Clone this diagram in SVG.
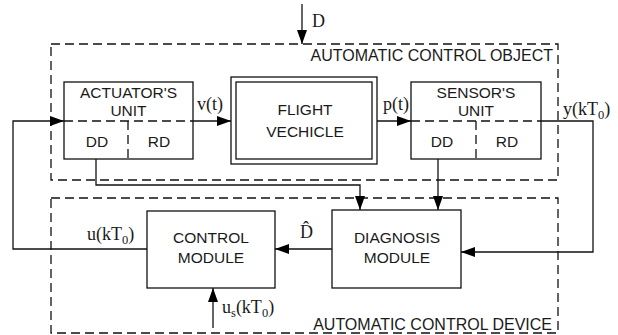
<svg xmlns="http://www.w3.org/2000/svg" width="618" height="335" viewBox="0 0 618 335">
<defs>
<marker id="ah" viewBox="0 0 14 10" refX="14" refY="5" markerWidth="14" markerHeight="10" markerUnits="userSpaceOnUse" orient="auto">
<path d="M0,0 L14,5 L0,10 Z" fill="#000"/>
</marker>
<style>
.bx{fill:#fff;stroke:#111;stroke-width:1.3}
.ds{fill:none;stroke:#111;stroke-width:1.3;stroke-dasharray:9 5}
.ar{fill:none;stroke:#111;stroke-width:1.3;marker-end:url(#ah)}
.t{font-family:"Liberation Sans",Arial,sans-serif;font-size:15.5px;fill:#1a1a1a;text-anchor:middle}
.tl{font-family:"Liberation Sans",Arial,sans-serif;font-size:16px;fill:#1a1a1a;text-anchor:end}
.m{font-family:"Liberation Serif","Times New Roman",serif;font-size:18px;fill:#1a1a1a}
.s{font-size:12.5px}
</style>
</defs>
<rect width="618" height="335" fill="#fff"/>
<g id="object-boundary">
<rect class="ds" x="51" y="44" width="507" height="136"/>
<text class="tl" x="553" y="61">AUTOMATIC CONTROL OBJECT</text>
</g>
<g id="device-boundary">
<rect class="ds" x="51" y="198" width="507" height="135"/>
<text class="tl" x="552" y="330">AUTOMATIC CONTROL DEVICE</text>
</g>
<g id="actuator">
<rect class="bx" x="64" y="82" width="129" height="77"/>
<line class="ds" x1="64" y1="121" x2="193" y2="121"/>
<line class="ds" x1="128" y1="121" x2="128" y2="159"/>
<text class="t" x="128.5" y="98">ACTUATOR'S</text>
<text class="t" x="128.5" y="116">UNIT</text>
<text class="t" x="97" y="147">DD</text>
<text class="t" x="159" y="147">RD</text>
</g>
<g id="flight-vehicle">
<rect class="bx" x="231" y="77" width="146" height="87"/>
<rect class="bx" x="236" y="82" width="136" height="77"/>
<text class="t" x="305" y="115">FLIGHT</text>
<text class="t" x="305" y="137">VECHICLE</text>
</g>
<g id="sensor">
<rect class="bx" x="411" y="82" width="130" height="77"/>
<line class="ds" x1="411" y1="121" x2="541" y2="121"/>
<line class="ds" x1="476" y1="121" x2="476" y2="159"/>
<text class="t" x="476" y="98">SENSOR'S</text>
<text class="t" x="476" y="116">UNIT</text>
<text class="t" x="442" y="147">DD</text>
<text class="t" x="507" y="147">RD</text>
</g>
<g id="control-module">
<rect class="bx" x="147" y="211" width="128" height="77"/>
<text class="t" x="211" y="243">CONTROL</text>
<text class="t" x="211" y="263">MODULE</text>
</g>
<g id="diagnosis-module">
<rect class="bx" x="332" y="210" width="129" height="78"/>
<text class="t" x="397" y="243">DIAGNOSIS</text>
<text class="t" x="397" y="263">MODULE</text>
</g>
<g id="connectors">
<path class="ar" d="M302,4 V44"/>
<path class="ar" d="M193,121 H231"/>
<path class="ar" d="M377,121 H411"/>
<path class="ar" d="M541,121 H593 V252 H461"/>
<path class="ar" d="M96,159 V185 H360 V210"/>
<path class="ar" d="M438,159 V210"/>
<path class="ar" d="M332,249 H275"/>
<path class="ar" d="M147,249 H13 V121 H64"/>
<path class="ar" d="M213,328 V288"/>
</g>
<g id="labels">
<text class="m" x="312" y="27">D</text>
<text class="m" x="197" y="110">v(t)</text>
<text class="m" x="383" y="110">p(t)</text>
<text class="m" x="563" y="115">y(kT<tspan class="s" dy="4">0</tspan><tspan dy="-4">)</tspan></text>
<text class="m" x="87" y="240">u(kT<tspan class="s" dy="4">0</tspan><tspan dy="-4">)</tspan></text>
<text class="m" x="300" y="238">D&#x302;</text>
<text class="m" x="222" y="313">u<tspan class="s" dy="4">s</tspan><tspan dy="-4">(kT</tspan><tspan class="s" dy="4">0</tspan><tspan dy="-4">)</tspan></text>
</g>
</svg>
